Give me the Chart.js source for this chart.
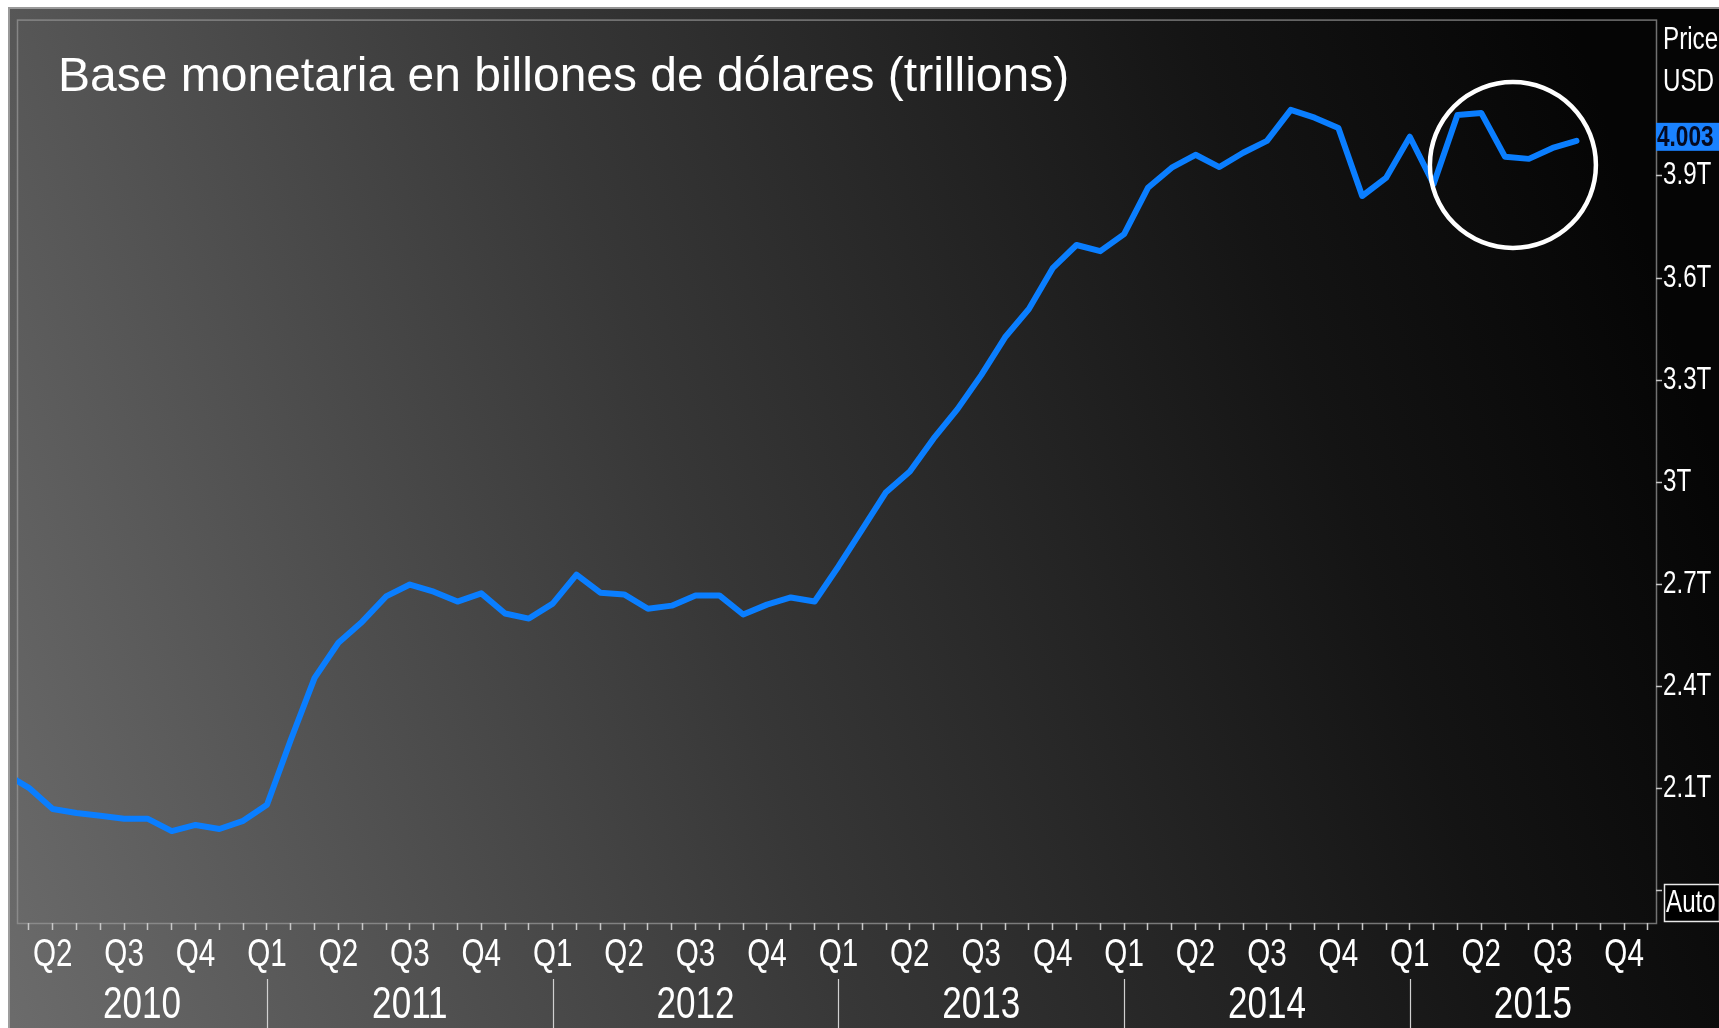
<!DOCTYPE html>
<html>
<head>
<meta charset="utf-8">
<title>Base monetaria</title>
<script src="https://cdn.jsdelivr.net/npm/chart.js@4.4.1/dist/chart.umd.min.js"></script>
<style>
  html, body { margin: 0; padding: 0; background: #fff; overflow: hidden; }
  canvas { display: block; }
</style>
</head>
<body>
<canvas id="grafica" width="1719" height="1028"></canvas>
<script>
// Meses contados desde enero de 2010 (0 = ene 2010, 12 = ene 2011, ...)
const meses = [
   1,  2,  3,  4,  5,  6,  7,  8,  9, 10, 11,
  12, 13, 14, 15, 16, 17, 18, 19, 20, 21, 22, 23,
  24, 25, 26, 27, 28, 29, 30, 31, 32, 33, 34, 35,
  36, 37, 38, 39, 40, 41, 42, 43, 44, 45, 46, 47,
  48, 49, 50, 51, 52, 53, 54, 55, 56, 57, 58, 59,
  60, 61, 62, 63, 64, 65, 66, 67
];

// Base monetaria, billones de USD (trillions)
const baseMonetaria = [
  2.144, 2.103, 2.041, 2.029, 2.021, 2.012, 2.012, 1.976, 1.994, 1.982, 2.006,
  2.053, 2.244, 2.426, 2.529, 2.591, 2.665, 2.700, 2.679, 2.650, 2.674, 2.615, 2.600,
  2.644, 2.729, 2.676, 2.671, 2.629, 2.638, 2.668, 2.668, 2.612, 2.641, 2.662, 2.650,
  2.753, 2.862, 2.971, 3.032, 3.129, 3.215, 3.315, 3.426, 3.509, 3.629, 3.697, 3.679,
  3.729, 3.865, 3.924, 3.962, 3.926, 3.968, 4.003, 4.094, 4.071, 4.041, 3.841, 3.894,
  4.015, 3.876, 4.079, 4.085, 3.956, 3.950, 3.982, 4.003
];

const trimestres = ['Q1', 'Q2', 'Q3', 'Q4'];
const anios = [2010, 2011, 2012, 2013, 2014, 2015];
const ticksY = [1.8, 2.1, 2.4, 2.7, 3.0, 3.3, 3.6, 3.9];

// Rango visible de los ejes
const X_MIN = 1.5, X_MAX = 70.34;
const Y_MIN = 1.706, Y_MAX = 4.359;

// Zona resaltada con el círculo (mes, valor)
const zonaCirculo = { mes: 64.33, valor: 3.932 };

const FUENTE = "'Liberation Sans Narrow', 'Liberation Sans', Arial, sans-serif";
const FUENTE_TITULO = "'Liberation Sans', Arial, sans-serif";
const ESTRECHO = 0.78; // compresión horizontal si no hay fuente "Narrow"

// Posiciones de los rótulos de año: centrados en el tramo visible de cada año
function centrosAnios() {
  return anios.map(a => {
    const ini = Math.max(X_MIN, (a - 2010) * 12);
    const fin = Math.min(X_MAX, (a - 2009) * 12);
    return (ini + fin) / 2;
  });
}

// Comprime el texto de los ejes (fuente estrecha) usando el maxWidth de fillText
const textoEstrecho = {
  id: 'textoEstrecho',
  beforeDraw(chart) {
    const ctx = chart.ctx;
    const fillOriginal = CanvasRenderingContext2D.prototype.fillText;
    ctx.fillText = function (txt, x, y, maxW) {
      if (this.font.indexOf('Narrow') === -1 || !txt) return fillOriginal.call(this, txt, x, y, maxW);
      const w = this.measureText(txt).width * ESTRECHO;
      return fillOriginal.call(this, txt, x, y, w);
    };
  },
  afterDraw(chart) {
    delete chart.ctx.fillText;
  }
};

const fondo = {
  id: 'fondo',
  beforeDraw(chart) {
    const { ctx, width, height } = chart;
    ctx.save();
    ctx.fillStyle = '#ffffff';
    ctx.fillRect(0, 0, width, height);
    const g = ctx.createLinearGradient(0, height, width, height * 0.45);
    g.addColorStop(0, '#6c6c6c');
    g.addColorStop(0.45, '#373737');
    g.addColorStop(0.8, '#141414');
    g.addColorStop(1, '#050505');
    ctx.fillStyle = g;
    ctx.fillRect(8, 7, width - 8, height - 7);
    // filo claro del panel
    ctx.strokeStyle = 'rgba(170,170,170,0.8)';
    ctx.lineWidth = 2;
    ctx.beginPath();
    ctx.moveTo(9, height);
    ctx.lineTo(9, 8);
    ctx.lineTo(width, 8);
    ctx.stroke();
    // marco del área de trazado
    const a = chart.chartArea;
    ctx.strokeStyle = 'rgba(150,150,150,0.75)';
    ctx.lineWidth = 1.5;
    ctx.strokeRect(a.left + 0.5, a.top + 0.5, a.right - a.left, a.bottom - a.top);
    ctx.restore();
  }
};

const decoracion = {
  id: 'decoracion',
  afterDraw(chart) {
    const { ctx, width, height } = chart;
    const sx = chart.scales.x;
    const sy = chart.scales.y;
    const a = chart.chartArea;
    ctx.save();

    // Título
    ctx.fillStyle = '#ffffff';
    ctx.font = '48px ' + FUENTE_TITULO;
    ctx.textBaseline = 'alphabetic';
    ctx.textAlign = 'left';
    ctx.fillText('Base monetaria en billones de dólares (trillions)', 58, 91);

    // Separadores de año bajo el eje
    ctx.strokeStyle = '#d0d0d0';
    ctx.lineWidth = 1.2;
    anios.slice(1).forEach(an => {
      const px = Math.round(sx.getPixelForValue((an - 2010) * 12)) + 0.5;
      ctx.beginPath();
      ctx.moveTo(px, 979);
      ctx.lineTo(px, height);
      ctx.stroke();
    });

    // Encabezado del eje de precios
    ctx.fillStyle = '#ffffff';
    ctx.font = '31px ' + FUENTE;
    ctx.textBaseline = 'middle';
    ctx.fillText('Price', a.right + 7, 40);
    ctx.fillText('USD', a.right + 7, 82);

    // Etiqueta del último valor
    const ultimo = baseMonetaria[baseMonetaria.length - 1];
    const py = sy.getPixelForValue(ultimo);
    ctx.fillStyle = '#1a82ff';
    ctx.fillRect(a.right, py - 18, width - a.right, 28);
    ctx.fillStyle = '#050a20';
    ctx.font = 'bold 29px ' + FUENTE;
    ctx.fillText(ultimo.toFixed(3), a.right + 1, py - 3);

    // Caja "Auto" junto al tick inferior
    const pAuto = sy.getPixelForValue(ticksY[0]);
    ctx.fillStyle = '#000000';
    ctx.fillRect(a.right + 8, pAuto - 7, width - a.right - 8, 38);
    ctx.strokeStyle = '#e8e8e8';
    ctx.lineWidth = 1.5;
    ctx.strokeRect(a.right + 8.5, pAuto - 6.5, width - a.right - 8, 37);
    ctx.fillStyle = '#ffffff';
    ctx.font = '31px ' + FUENTE;
    ctx.fillText('Auto', a.right + 10, pAuto + 12);

    // Círculo de resalte
    ctx.strokeStyle = '#ffffff';
    ctx.lineWidth = 4.5;
    ctx.beginPath();
    ctx.arc(sx.getPixelForValue(zonaCirculo.mes), sy.getPixelForValue(zonaCirculo.valor), 83, 0, Math.PI * 2);
    ctx.stroke();

    ctx.restore();
  }
};

const canvas = document.getElementById('grafica');
new Chart(canvas.getContext('2d'), {
  type: 'line',
  data: {
    datasets: [{
      label: 'Base monetaria',
      data: meses.map((m, i) => ({ x: m, y: baseMonetaria[i] })),
      borderColor: '#0a7eff',
      borderWidth: 6,
      borderJoinStyle: 'round',
      borderCapStyle: 'round',
      pointRadius: 0,
      tension: 0,
      fill: false
    }]
  },
  options: {
    responsive: false,
    animation: false,
    devicePixelRatio: 1,
    layout: { padding: { left: 17, top: 19, right: 0, bottom: 0 } },
    plugins: { legend: { display: false }, tooltip: { enabled: false } },
    scales: {
      x: {
        type: 'linear',
        position: 'bottom',
        min: X_MIN,
        max: X_MAX,
        afterFit(s) { s.height = 58; },
        afterBuildTicks(s) {
          const t = [];
          for (let m = Math.ceil(X_MIN); m <= X_MAX; m++) t.push({ value: m });
          s.ticks = t;
        },
        ticks: {
          autoSkip: false,
          maxRotation: 0,
          padding: 5,
          color: '#ffffff',
          font: { family: FUENTE, size: 38, lineHeight: 1.1 },
          callback: v => (v % 3 === 0 ? trimestres[(v % 12) / 3] : '')
        },
        grid: { drawOnChartArea: false, drawTicks: true, tickLength: 7, tickWidth: 1.5, color: '#c8c8c8' },
        border: { display: false }
      },
      xAnio: {
        type: 'linear',
        position: 'bottom',
        min: X_MIN,
        max: X_MAX,
        afterFit(s) { s.height = 47; },
        afterBuildTicks(s) { s.ticks = centrosAnios().map(v => ({ value: v })); },
        ticks: {
          autoSkip: false,
          maxRotation: 0,
          padding: 0,
          color: '#ffffff',
          font: { family: FUENTE, size: 45, lineHeight: 1.1 },
          callback: (v, i) => String(anios[i])
        },
        grid: { display: false, drawTicks: false },
        border: { display: false }
      },
      y: {
        type: 'linear',
        position: 'right',
        min: Y_MIN,
        max: Y_MAX,
        afterFit(s) { s.width = 63; },
        afterBuildTicks(s) { s.ticks = ticksY.map(v => ({ value: v })); },
        ticks: {
          autoSkip: false,
          padding: 1,
          color: '#ffffff',
          font: { family: FUENTE, size: 31 },
          callback: v => (v === ticksY[0] ? '' : (+v.toFixed(1)) + 'T')
        },
        grid: { drawOnChartArea: false, drawTicks: true, tickLength: 6, tickWidth: 1.5, color: '#c8c8c8' },
        border: { display: false }
      }
    }
  },
  plugins: [fondo, decoracion, textoEstrecho]
});
</script>
</body>
</html>
